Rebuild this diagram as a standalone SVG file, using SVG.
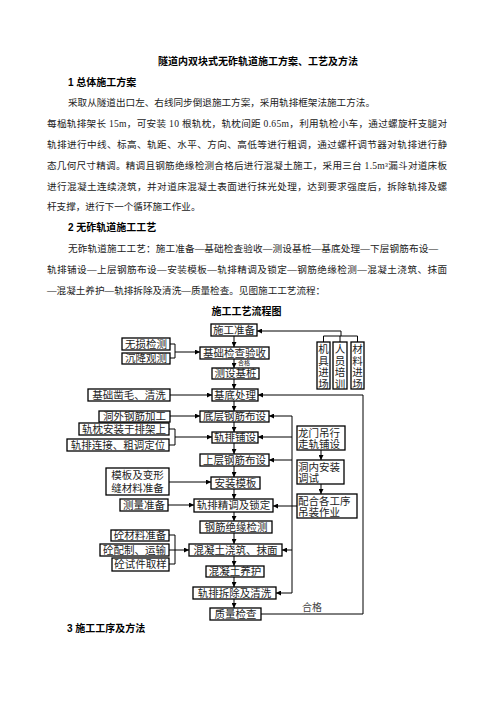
<svg xmlns="http://www.w3.org/2000/svg" width="496" height="702" viewBox="0 0 496 702">
<defs>
<marker id="ah" markerUnits="userSpaceOnUse" markerWidth="6" markerHeight="5" refX="5" refY="2.5" orient="auto">
<path d="M0,0 L5,2.5 L0,5 z" fill="#000"/>
</marker>
<style>
.body{font-family:"Liberation Serif","Noto Sans CJK SC",serif;font-size:9.6px;fill:#222}
.h{font-family:"Liberation Sans","Noto Sans CJK SC",sans-serif;font-size:10px;font-weight:bold;fill:#000}
.box{fill:#fff;stroke:#000;stroke-width:1.3}
.bt{font-family:"Liberation Serif","Noto Sans CJK SC",serif;font-size:10.5px;fill:#222;text-anchor:middle}
.bl{font-family:"Liberation Serif","Noto Sans CJK SC",serif;font-size:10.5px;fill:#222}
.ln{fill:none;stroke:#000;stroke-width:1}
.ar{fill:none;stroke:#000;stroke-width:1;marker-end:url(#ah)}
.sm{font-family:"Noto Sans CJK SC",sans-serif;font-size:6px;fill:#222}
.lab{font-family:"Noto Sans CJK SC",sans-serif;font-size:10px;fill:#444}
</style>
</defs>
<rect width="496" height="702" fill="#fff"/>
<g id="text">
<text class="h" x="258" y="64.5" text-anchor="middle" textLength="200" lengthAdjust="spacingAndGlyphs">隧道内双块式无砟轨道施工方案、工艺及方法</text>
<text class="h" x="68" y="85.5">1 总体施工方案</text>
<text class="body" x="68" y="106">采取从隧道出口左、右线同步倒退施工方案，采用轨排框架法施工方法。</text>
<text class="body" x="47" y="127" textLength="400" lengthAdjust="spacing">每榀轨排架长 15m，可安装 10 根轨枕，轨枕间距 0.65m，利用轨检小车，通过螺旋杆支腿对</text>
<text class="body" x="47" y="148" textLength="400" lengthAdjust="spacing">轨排进行中线、标高、轨距、水平、方向、高低等进行粗调，通过螺杆调节器对轨排进行静</text>
<text class="body" x="47" y="169" textLength="400" lengthAdjust="spacing">态几何尺寸精调。精调且钢筋绝缘检测合格后进行混凝土施工，采用三台 1.5m³漏斗对道床板</text>
<text class="body" x="47" y="190" textLength="400" lengthAdjust="spacing">进行混凝土连续浇筑，并对道床混凝土表面进行抹光处理，达到要求强度后，拆除轨排及螺</text>
<text class="body" x="47" y="210">杆支撑，进行下一个循环施工作业。</text>
<text class="h" x="68" y="231">2 无砟轨道施工工艺</text>
<text class="body" x="68" y="252" textLength="370" lengthAdjust="spacing">无砟轨道施工工艺：施工准备—基础检查验收—测设基桩—基底处理—下层钢筋布设—</text>
<text class="body" x="47" y="273" textLength="400" lengthAdjust="spacing">轨排铺设—上层钢筋布设—安装模板—轨排精调及锁定—钢筋绝缘检测—混凝土浇筑、抹面</text>
<text class="body" x="47" y="294">—混凝土养护—轨排拆除及清洗—质量检查。见图施工工艺流程：</text>
<text class="h" x="246.5" y="315" text-anchor="middle">施工工艺流程图</text>
<text class="h" x="67" y="632">3 施工工序及方法</text>
</g>
<g id="connectors">
<path class="ar" d="M234,336 V347"/>
<path class="ar" d="M234,359 V368"/>
<path class="ar" d="M234,379 V389"/>
<path class="ar" d="M234,401 V411"/>
<path class="ar" d="M234,422 V432"/>
<path class="ar" d="M234,443 V454"/>
<path class="ar" d="M234,466 V477"/>
<path class="ar" d="M234,489 V499"/>
<path class="ar" d="M234,512 V521"/>
<path class="ar" d="M234,533 V544"/>
<path class="ar" d="M234,556 V566"/>
<path class="ar" d="M234,577 V587"/>
<path class="ar" d="M234,599 V608"/>
<path class="ar" d="M341,336 V331 H257"/>
<path class="ln" d="M323.5,342 V336 H357.5 V342 M340,336 V342"/>
<path class="ln" d="M170,344 H175 V358 H170"/>
<path class="ar" d="M175,352 H200"/>
<path class="ar" d="M170,395 H212"/>
<path class="ar" d="M261,614 H363 V395 H258"/>
<path class="ar" d="M170,416 H200"/>
<path class="ln" d="M169,429 H175 V445 H169"/>
<path class="ar" d="M175,437 H212"/>
<path class="ar" d="M169,482 H211"/>
<path class="ar" d="M168,505 H194"/>
<path class="ln" d="M169,535 H175 V564 H169"/>
<path class="ar" d="M169,550 H189"/>
<path class="ln" d="M292,416 V593"/>
<path class="ar" d="M292,416 H269"/>
<path class="ar" d="M292,437 H258"/>
<path class="ar" d="M292,460 H269"/>
<path class="ar" d="M297,506 H273"/>
<path class="ar" d="M292,550 H282"/>
<path class="ar" d="M292,593 H276"/>
<path class="ar" d="M321,450 V460"/>
<path class="ar" d="M321,484 V494"/>
<text class="sm" x="238" y="365">合格</text>
<text class="lab" x="302" y="611">合格</text>
</g>
<g id="n_prep"><rect class="box" x="211" y="324" width="46" height="12"/><text class="bt" x="234" y="333.8">施工准备</text></g>
<g id="n_check"><rect class="box" x="200" y="347" width="69" height="12"/><text class="bt" x="234.5" y="356.8">基础检查验收</text></g>
<g id="n_ndt"><rect class="box" x="122" y="338" width="48" height="12"/><text class="bt" x="146" y="347.8">无损检测</text></g>
<g id="n_settle"><rect class="box" x="122" y="353" width="48" height="11"/><text class="bt" x="146" y="362.3">沉降观测</text></g>
<g id="n_pile"><rect class="box" x="212" y="368" width="47" height="11"/><text class="bt" x="235.5" y="377.3">测设基桩</text></g>
<g id="n_base"><rect class="box" x="212" y="389" width="46" height="12"/><text class="bt" x="235" y="398.8">基底处理</text></g>
<g id="n_chisel"><rect class="box" x="88" y="389" width="82" height="12"/><text class="bt" x="129" y="398.8">基础凿毛、清洗</text></g>
<g id="n_lower"><rect class="box" x="200" y="411" width="69" height="11"/><text class="bt" x="234.5" y="420.3">底层钢筋布设</text></g>
<g id="n_rebarproc"><rect class="box" x="99" y="411" width="71" height="11"/><text class="bt" x="134.5" y="420.3">洞外钢筋加工</text></g>
<g id="n_laying"><rect class="box" x="212" y="432" width="46" height="11"/><text class="bt" x="235" y="441.3">轨排铺设</text></g>
<g id="n_sleeper"><rect class="box" x="79" y="423" width="90" height="12"/><text class="bt" x="124" y="432.8">轨枕安装于排架上</text></g>
<g id="n_connect"><rect class="box" x="67" y="439" width="102" height="12"/><text class="bt" x="118" y="448.8">轨排连接、粗调定位</text></g>
<g id="n_upper"><rect class="box" x="200" y="454" width="69" height="12"/><text class="bt" x="234.5" y="463.8">上层钢筋布设</text></g>
<g id="n_form"><rect class="box" x="211" y="477" width="49" height="12"/><text class="bt" x="235.5" y="486.8">安装模板</text></g>
<g id="n_formprep"><rect class="box" x="106" y="468" width="63" height="27"/><text class="bt" x="137.5" y="479">模板及变形</text><text class="bt" x="137.5" y="492">缝材料准备</text></g>
<g id="n_fine"><rect class="box" x="194" y="499" width="79" height="13"/><text class="bt" x="233.5" y="509.3">轨排精调及锁定</text></g>
<g id="n_survey"><rect class="box" x="120" y="499" width="48" height="12"/><text class="bt" x="144" y="508.8">测量准备</text></g>
<g id="n_insul"><rect class="box" x="200" y="521" width="72" height="12"/><text class="bt" x="236" y="530.8">钢筋绝缘检测</text></g>
<g id="n_pour"><rect class="box" x="189" y="544" width="93" height="12"/><text class="bt" x="235.5" y="553.8">混凝土浇筑、抹面</text></g>
<g id="n_mat"><rect class="box" x="111" y="530" width="58" height="11"/><text class="bt" x="140" y="539.3">砼材料准备</text></g>
<g id="n_mix"><rect class="box" x="100" y="544" width="69" height="12"/><text class="bt" x="134.5" y="553.8">砼配制、运输</text></g>
<g id="n_sample"><rect class="box" x="112" y="558" width="57" height="13"/><text class="bt" x="140.5" y="568.3">砼试件取样</text></g>
<g id="n_cure"><rect class="box" x="206" y="566" width="58" height="11"/><text class="bt" x="235" y="575.3">混凝土养护</text></g>
<g id="n_remove"><rect class="box" x="193" y="587" width="83" height="12"/><text class="bt" x="234.5" y="596.8">轨排拆除及清洗</text></g>
<g id="n_qc"><rect class="box" x="210" y="608" width="51" height="12"/><text class="bt" x="235.5" y="617.8">质量检查</text></g>
<g id="n_equip"><rect class="box" x="317" y="342" width="13" height="47"/><text class="bt" x="323.5" y="353">机</text><text class="bt" x="323.5" y="364.5">具</text><text class="bt" x="323.5" y="376">进</text><text class="bt" x="323.5" y="387.5">场</text></g>
<g id="n_staff"><rect class="box" x="333" y="342" width="14" height="47"/><text class="bt" x="340" y="353">人</text><text class="bt" x="340" y="364.5">员</text><text class="bt" x="340" y="376">培</text><text class="bt" x="340" y="387.5">训</text></g>
<g id="n_mater"><rect class="box" x="351" y="342" width="13" height="47"/><text class="bt" x="357.5" y="353">材</text><text class="bt" x="357.5" y="364.5">料</text><text class="bt" x="357.5" y="376">进</text><text class="bt" x="357.5" y="387.5">场</text></g>
<g id="n_gantry"><rect class="box" x="297" y="426" width="48" height="24"/><text class="bl" x="298" y="436.5">龙门吊行</text><text class="bl" x="298" y="448">走轨铺设</text></g>
<g id="n_install"><rect class="box" x="297" y="460" width="47" height="24"/><text class="bl" x="298" y="470.5">洞内安装</text><text class="bl" x="298" y="482">调试</text></g>
<g id="n_hoist"><rect class="box" x="297" y="494" width="60" height="24"/><text class="bl" x="298" y="504.5">配合各工序</text><text class="bl" x="298" y="516">吊装作业</text></g>
</svg>
